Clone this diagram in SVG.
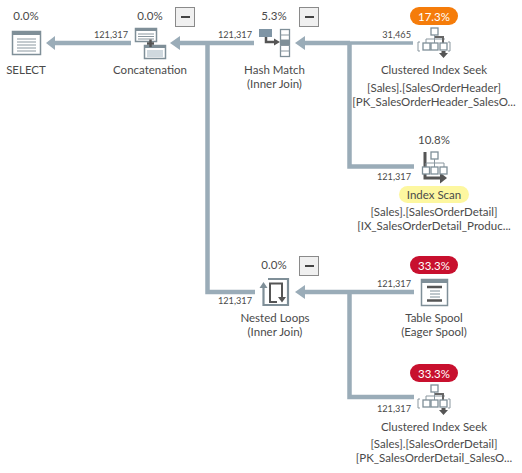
<svg xmlns="http://www.w3.org/2000/svg" width="522" height="473" viewBox="0 0 522 473">
<style>
text{font-family:Lato,"Noto Sans","Liberation Sans",sans-serif;fill:#4a4a4a;text-anchor:middle;font-size:11.5px}
.n{font-size:9.2px;text-anchor:end}
.w{fill:#fff}
.c{fill:none;stroke:#9aacb8;stroke-width:4.5}
.t{stroke-width:3.5}
.h{fill:#9aacb8}
.i{fill:#fff;stroke:#7f8f98;stroke-width:1.5}
.d{fill:#7f8f98}
.k{fill:#555;stroke:none}
.l{stroke:#8a979f;stroke-width:1;fill:none}
.b{fill:#f0f0f0;stroke:#8a8a8a;stroke-width:1}
.o{fill:#fff;stroke:#7f8f98;stroke-width:1.3}
</style>
<defs>
<g id="minus"><rect class="b" x="0.5" y="0.5" width="19" height="19"/><rect x="6" y="9" width="9" height="2" fill="#444"/></g>
<g id="seek">
<rect class="o" x="-3" y="-15" width="7" height="7"/>
<path class="l" d="M0.500-8V-4M-8-0V-4H11M0.500-4V0"/>
<path d="M1-6H9V1" fill="none" stroke="#666" stroke-width="2"/>
<rect class="o" x="-11" y="0" width="7" height="7"/><rect class="o" x="-3" y="0" width="7" height="7"/><rect class="o" x="6" y="0" width="7" height="7"/>
<path class="l" d="M-14-1H-16V8H-14M14-1H16V8H14" stroke="#666"/>
<path class="k" d="M7.500 8H11.500V10H14L9.500 15L5 10H7.500Z"/>
</g>
</defs>

<g id="connectors">
<path class="c" d="M131 43H54"/><path class="h" d="M46 43L55 36V50Z"/>
<path class="c" d="M254 43H178"/><path class="h" d="M170 43L180 36V50Z"/>
<path class="c" d="M207.500 43V292H255"/>
<path class="c" d="M350 43H303"/><path class="c t" d="M350 43H413"/><path class="h" d="M295 43L305 36V50Z"/>
<path class="c" d="M349.500 43V166.500H414"/>
<path class="c" d="M414 292H303"/><path class="h" d="M295 292L305 285V299Z"/>
<path class="c" d="M349.500 292V397H414"/>
</g>

<g id="select">
<text x="26" y="20">0.0%</text>
<rect class="i" x="12.500" y="31.500" width="28" height="23"/><rect class="d" x="12" y="31" width="29" height="4"/>
<path class="l" d="M17 39H36M17 42H36M17 45H36M17 48H36M17 51H36"/>
<text x="26" y="74">SELECT</text>
</g>

<g id="concatenation">
<text x="150" y="20">0.0%</text>
<use href="#minus" x="175" y="7"/>
<rect class="i" x="135.500" y="28.500" width="21" height="13"/><rect class="d" x="135" y="28" width="22" height="3"/>
<path class="l" d="M138 34H154M138 36.500H154M138 39H154"/>
<rect class="i" x="144.500" y="45.500" width="21" height="13"/><rect class="d" x="144" y="45" width="22" height="3"/>
<rect x="147" y="50" width="16" height="7" fill="#cfd8de"/>
<path d="M147 43.500H154M150.500 39.500V47" stroke="#555" stroke-width="2.500" fill="none"/>
<text x="150" y="74">Concatenation</text>
<text class="n" x="128" y="38">121,317</text>
</g>

<g id="hashmatch">
<text x="274" y="20">5.3%</text>
<use href="#minus" x="299" y="7"/>
<rect x="259" y="29" width="13" height="8" fill="#7f95a5"/>
<path d="M266 37V42H275" fill="none" stroke="#555" stroke-width="2.500"/><path class="k" d="M274 38.500L280 42L274 45.500Z"/>
<rect class="o" x="280.500" y="29.500" width="9" height="27"/>
<path class="l" d="M280 35H290M280 40H290M280 45.500H290M280 51H290"/>
<rect x="280" y="40" width="10" height="5" fill="#7f8f98"/>
<text x="274.500" y="74">Hash Match</text><text x="274.500" y="88">(Inner Join)</text>
<text class="n" x="252" y="38">121,317</text>
</g>

<g id="clusteredseek1">
<rect x="410" y="7" width="48" height="18" rx="9" fill="#f57c0a"/>
<text class="w" x="434" y="20.500">17.3%</text>
<use href="#seek" x="434" y="43"/>
<text x="434" y="74">Clustered Index Seek</text>
<text x="434" y="92">[Sales].[SalesOrderHeader]</text>
<text x="434" y="106">[PK_SalesOrderHeader_SalesO...</text>
<text class="n" x="411" y="38">31,465</text>
</g>

<g id="indexscan">
<text x="434" y="144">10.8%</text>
<path d="M425 152V178H441" fill="none" stroke="#555" stroke-width="3"/><path class="k" d="M440 172.500L447 178L440 183.500Z"/>
<rect class="o" x="431" y="152" width="7" height="7"/><path class="l" d="M434.500 159V163M426 167V163H444V167M434.500 163V167"/>
<rect class="o" x="422.500" y="167" width="7" height="7"/><rect class="o" x="431" y="167" width="7" height="7"/><rect class="o" x="440" y="167" width="7" height="7"/>
<rect x="399" y="186" width="70" height="17" rx="8.500" fill="#fdf7a0"/>
<text x="434" y="199">Index Scan</text>
<text x="434" y="216">[Sales].[SalesOrderDetail]</text>
<text x="434" y="230">[IX_SalesOrderDetail_Produc...</text>
<text class="n" x="411" y="180">121,317</text>
</g>

<g id="nestedloops">
<text x="274" y="269">0.0%</text>
<use href="#minus" x="299" y="256"/>
<path d="M268 279H288V305H263.500V287" fill="none" stroke="#7f8f98" stroke-width="2.200"/>
<path d="M259.500 288L263.500 282L267.500 288Z" fill="#7f8f98"/>
<path d="M277 302H270V283.500H282V298" fill="none" stroke="#555" stroke-width="2"/><path class="k" d="M278 297H286L282 302.500Z"/>
<text x="275" y="322">Nested Loops</text><text x="275" y="336">(Inner Join)</text>
<text class="n" x="252" y="304">121,317</text>
</g>

<g id="tablespool">
<rect x="410" y="256" width="48" height="18" rx="9" fill="#c8102e"/>
<text class="w" x="434" y="269.500">33.3%</text>
<rect class="i" x="421.500" y="279.500" width="26" height="26"/><rect class="d" x="421" y="279" width="27" height="4"/>
<path d="M427 287H442M427 300.500H442" stroke="#555" stroke-width="2.500"/><path d="M430 291H440M430 294H440M430 297H440" stroke="#7f8f98"/>
<text x="434" y="322">Table Spool</text><text x="434" y="336">(Eager Spool)</text>
<text class="n" x="411" y="287">121,317</text>
</g>

<g id="clusteredseek2">
<rect x="410" y="364" width="48" height="18" rx="9" fill="#c8102e"/>
<text class="w" x="434" y="377.500">33.3%</text>
<use href="#seek" x="434" y="400"/>
<text x="434" y="431">Clustered Index Seek</text>
<text x="434" y="448">[Sales].[SalesOrderDetail]</text>
<text x="434" y="462">[PK_SalesOrderDetail_SalesO...</text>
<text class="n" x="411" y="412">121,317</text>
</g>
</svg>
